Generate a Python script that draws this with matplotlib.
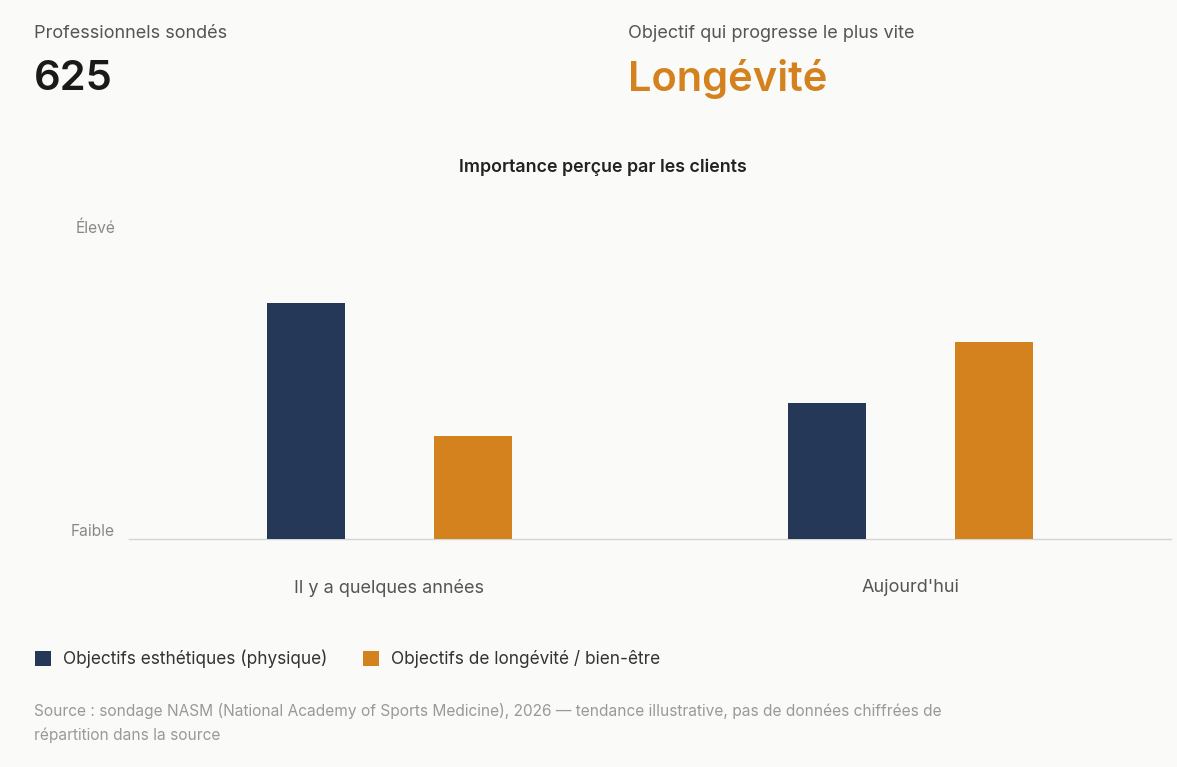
import matplotlib
matplotlib.use("Agg")
import matplotlib.pyplot as plt
import numpy as np

# Données (tendance illustrative)
categories = ["Il y a quelques années", "Aujourd'hui"]
series_noms = ["Objectifs esthétiques (physique)", "Objectifs de longévité / bien-être"]
esthetique = [78, 45]
longevite = [34, 65]
ytick_labels = ["Faible", "Élevé"]

NAVY = "#253858"
ORANGE = "#D4821E"
BG = "#FAFAF8"

plt.rcParams["font.family"] = ["Inter", "DejaVu Sans"]

W, H = 1177, 767
fig = plt.figure(figsize=(W / 100, H / 100), dpi=100, facecolor=BG)


def px(x, y):
    return x / W, 1 - y / H


# En-tête
fig.text(*px(34, 34), "Professionnels sondés", fontsize=13, color="#555555", va="center")
fig.text(*px(34, 79), "625", fontsize=30, color="#1a1a1a", va="center", fontweight="semibold")
fig.text(*px(628, 34), "Objectif qui progresse le plus vite", fontsize=13, color="#555555", va="center")
fig.text(*px(628, 79), "Longévité", fontsize=30, color=ORANGE, va="center", fontweight="semibold")

fig.text(*px(603, 167), "Importance perçue par les clients", fontsize=12.8, color="#222222",
         ha="center", va="center", fontweight="semibold")

# Graphique
left, right, top, bottom = 129, 1171, 236, 539
ax = fig.add_axes([left / W, 1 - bottom / H, (right - left) / W, (bottom - top) / H])
ax.set_facecolor(BG)

x = np.arange(len(categories))
largeur = 0.15
decal = 0.161
ax.bar(x - decal, esthetique, largeur, color=NAVY, label=series_noms[0], zorder=3)
ax.bar(x + decal, longevite, largeur, color=ORANGE, label=series_noms[1], zorder=3)

ax.set_xlim(-0.5, 1.5)
ax.set_ylim(0, 100)
for s in ["top", "right", "left"]:
    ax.spines[s].set_visible(False)
ax.spines["bottom"].set_color("#d5d5d5")
ax.spines["bottom"].set_linewidth(1)

ax.set_xticks(x)
ax.set_xticklabels(categories, fontsize=13, color="#555555")
ax.tick_params(axis="x", length=0, pad=29)

ax.set_yticks([0, 100])
ax.set_yticklabels(ytick_labels, fontsize=11.2, color="#888888", va="bottom")
ax.tick_params(axis="y", length=0, pad=10)

# Légende
leg = fig.legend(loc="upper left", bbox_to_anchor=px(19, 634), ncol=2, frameon=False,
                 fontsize=12.4, handlelength=0.95, handleheight=0.95, handletextpad=0.7,
                 columnspacing=2.05, labelcolor="#333333")

# Source
fig.text(*px(34, 711), "Source : sondage NASM (National Academy of Sports Medicine), 2026 — tendance illustrative, pas de données chiffrées de",
         fontsize=11.15, color="#999999", va="center")
fig.text(*px(34, 735), "répartition dans la source", fontsize=11.15, color="#999999", va="center")

fig.savefig("out.png", dpi=100, facecolor=BG)
